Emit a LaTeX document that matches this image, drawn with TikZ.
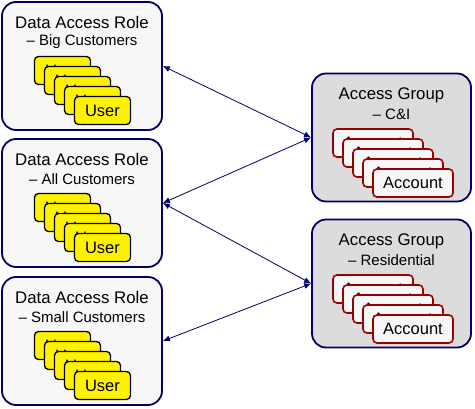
\documentclass[tikz,border=0pt]{standalone}
\usepackage{fontspec}
\setmainfont{Liberation Sans}
\usetikzlibrary{arrows.meta}
\definecolor{navy}{HTML}{000066}
\definecolor{rolefill}{HTML}{F7F7F7}
\definecolor{groupfill}{HTML}{DCDCDC}
\definecolor{acctred}{HTML}{990000}
\definecolor{acctfill}{HTML}{F7F7F7}
\tikzset{
  role/.style={draw=navy, line width=1.8pt, fill=rolefill, rounded corners=14pt,
    minimum width=160pt, minimum height=128pt, inner sep=0pt},
  group/.style={role, fill=groupfill, minimum width=159pt},
  user/.style={draw=black, line width=1.3pt, fill=yellow, rounded corners=4pt,
    minimum width=56pt, minimum height=28pt, inner sep=0pt, font=\fontsize{16.5}{18}\selectfont},
  acct/.style={draw=acctred, line width=1.6pt, fill=acctfill, rounded corners=4pt,
    minimum width=80pt, minimum height=28pt, inner sep=0pt, font=\fontsize{16.5}{18}\selectfont},
  head/.style={font=\fontsize{16.8}{18}\selectfont, inner sep=0pt},
  subhead/.style={font=\fontsize{15}{17}\selectfont, inner sep=0pt},
  link/.style={draw=navy, line width=0.8pt, {Latex[length=7pt,width=6pt]}-{Latex[length=7pt,width=6pt]}}
}
\begin{document}
\begin{tikzpicture}[x=1pt,y=-1pt]
            \useasboundingbox (0,0) rectangle (475,409);

            \node[role] (r1) at (82,66) {};
            \node[role] (r2) at (82,203) {};
            \node[role] (r3) at (82,341) {};
            \node[group] (g1) at (391.5,137.5) {};
            \node[group] (g2) at (391.5,283.5) {};

            \node[head] (r1t) at (82,22) {Data Access Role};
            \node[subhead] (r1s) at (82,42) {– Big Customers};
            \node[head] (r2t) at (82,159) {Data Access Role};
            \node[subhead] (r2s) at (82,179) {– All Customers};
            \node[head] (r3t) at (82,297) {Data Access Role};
            \node[subhead] (r3s) at (82,317) {– Small Customers};
            \node[head] (g1t) at (391.5,95) {Access Group};
            \node[subhead] (g1s) at (391.5,114) {– C\&I};
            \node[head] (g2t) at (391.5,241) {Access Group};
            \node[subhead] (g2s) at (391.5,260) {– Residential};

            \node[user] (u11) at (62.5,70.5) {User}; \node[user] (u12) at (72.5,80.5) {User};
            \node[user] (u13) at (82.5,90.5) {User}; \node[user] (u14) at (92.5,100.5) {User};
            \node[user] (u15) at (102.5,110.5) {User};
            \node[user] (u21) at (62.5,207.5) {User}; \node[user] (u22) at (72.5,217.5) {User};
            \node[user] (u23) at (82.5,227.5) {User}; \node[user] (u24) at (92.5,237.5) {User};
            \node[user] (u25) at (102.5,247.5) {User};
            \node[user] (u31) at (62.5,345.5) {User}; \node[user] (u32) at (72.5,355.5) {User};
            \node[user] (u33) at (82.5,365.5) {User}; \node[user] (u34) at (92.5,375.5) {User};
            \node[user] (u35) at (102.5,385.5) {User};

            \node[acct] (a11) at (373,143) {Account}; \node[acct] (a12) at (383,153) {Account};
            \node[acct] (a13) at (393,163) {Account}; \node[acct] (a14) at (403,173) {Account};
            \node[acct] (a15) at (413,183) {Account};
            \node[acct] (a21) at (373,289) {Account}; \node[acct] (a22) at (383,299) {Account};
            \node[acct] (a23) at (393,309) {Account}; \node[acct] (a24) at (403,319) {Account};
            \node[acct] (a25) at (413,329) {Account};

            \draw[link] (r1.east) to (g1.west); \draw[link] (r2.east) to (g1.west);
            \draw[link] (r2.east) to (g2.west); \draw[link] (r3.east) to (g2.west);
        \end{tikzpicture}
\end{document}
